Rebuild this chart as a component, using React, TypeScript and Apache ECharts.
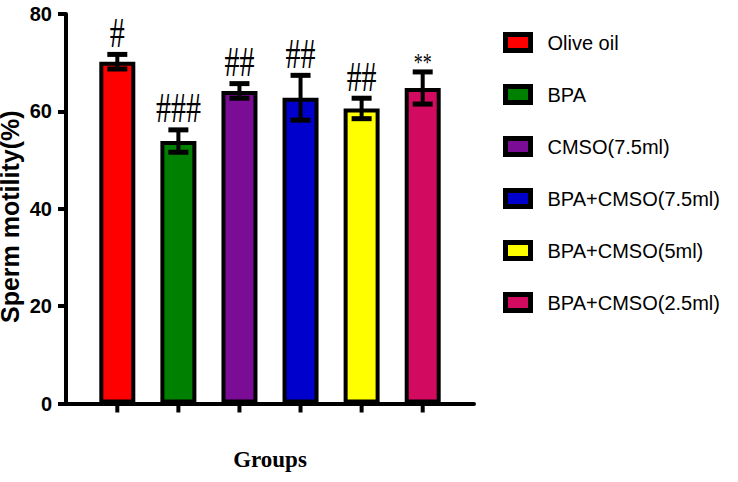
import React, { useEffect, useRef } from "react";
import * as echarts from "echarts";

const categories = ["Olive oil", "BPA", "CMSO(7.5ml)", "BPA+CMSO(7.5ml)", "BPA+CMSO(5ml)", "BPA+CMSO(2.5ml)"];
const means = [70.2, 53.9, 64.2, 62.8, 60.6, 64.8];
const errors = [1.5, 2.3, 1.5, 4.6, 2.1, 3.3];
const marks = ["#", "###", "##", "##", "##", "**"];
const colors = ["#FF0000", "#008000", "#7B0C96", "#0000CC", "#FFFF00", "#D20A60"];
const yTicks = [0, 20, 40, 60, 80];

const SERIF = '"Liberation Serif", "Times New Roman", serif';
const SANS = '"Liberation Sans", Arial, sans-serif';

export default function App() {
  const ref = useRef<HTMLDivElement>(null);
  useEffect(() => {
    if (!ref.current) return;
    const chart = echarts.init(ref.current, null, { renderer: "svg" });
    const barSeries = categories.map((name, i) => ({
      name,
      type: "bar",
      data: [[i, means[i]]],
      barWidth: 36,
      barGap: "-100%",
      itemStyle: { color: colors[i], borderColor: "#000", borderWidth: 4 },
      z: 2,
    }));
    const errData = means.map((m, i) => [i, m + errors[i], m - errors[i], 0]);
    chart.setOption({
      animation: false,
      grid: { left: 66, top: 14, right: 264, bottom: 78.5, outerBoundsMode: "none", containLabel: false },
      legend: {
        orient: "vertical",
        left: 503,
        top: 32,
        padding: 0,
        itemWidth: 25,
        itemHeight: 16,
        itemGap: 31,
        icon: "rect",
        itemStyle: { borderColor: "#000", borderWidth: 5 },
        textStyle: { fontFamily: SANS, fontSize: 20, color: "#000", padding: [0, 0, 0, 12] },
        data: categories,
      },
      xAxis: {
        type: "value",
        min: -0.84,
        max: 5.84,
        axisLine: { show: true, onZero: false, lineStyle: { color: "#000", width: 4 } },
        axisTick: { show: false },
        axisLabel: { show: false },
        splitLine: { show: false },
        name: "Groups",
        nameLocation: "middle",
        nameGap: 44,
        nameMoveOverlap: false,
        nameTextStyle: { fontFamily: SERIF, fontWeight: "bold", fontSize: 23, color: "#000" },
      },
      yAxis: {
        type: "value",
        min: yTicks[0],
        max: yTicks[yTicks.length - 1],
        interval: 20,
        axisLine: { show: true, onZero: false, lineStyle: { color: "#000", width: 4 } },
        axisTick: { show: true, length: 8, lineStyle: { color: "#000", width: 4 } },
        axisLabel: { fontFamily: SANS, fontWeight: "bold", fontSize: 20, color: "#000", margin: 14 },
        splitLine: { show: false },
        name: "Sperm motility(%)",
        nameLocation: "middle",
        nameGap: 44,
        nameMoveOverlap: false,
        nameTextStyle: { fontFamily: SANS, fontWeight: "bold", fontSize: 25, color: "#000", padding: [0, 16, 0, 0] },
      },
      series: [
        ...barSeries,
        {
          type: "custom",
          clip: false,
          z: 5,
          silent: true,
          data: errData,
          encode: { x: 0, y: [1, 2] },
          renderItem: (params: any, api: any) => {
            const i = api.value(0);
            const top = api.coord([i, api.value(1)]);
            const bot = api.coord([i, api.value(2)]);
            const base = api.coord([i, api.value(3)]);
            const x = top[0];
            const isStar = marks[i] === "**";
            return {
              type: "group",
              children: [
                { type: "line", shape: { x1: x, y1: top[1], x2: x, y2: bot[1] }, style: { stroke: "#000", lineWidth: 4 } },
                { type: "line", shape: { x1: x - 10, y1: top[1], x2: x + 10, y2: top[1] }, style: { stroke: "#000", lineWidth: 5 } },
                { type: "line", shape: { x1: x - 10, y1: bot[1], x2: x + 10, y2: bot[1] }, style: { stroke: "#000", lineWidth: 5 } },
                { type: "line", shape: { x1: x, y1: base[1], x2: x, y2: base[1] + 9 }, style: { stroke: "#000", lineWidth: 4 } },
                {
                  type: "text",
                  x: x,
                  y: top[1] + (isStar ? 3 : -1),
                  scaleY: 1.4,
                  style: {
                    text: marks[i],
                    x: 0,
                    y: 0,
                    align: "center",
                    verticalAlign: "bottom",
                    font: isStar ? `18px ${SERIF}` : `30px ${SERIF}`,
                    fill: "#000",
                  },
                },
              ],
            };
          },
        },
      ],
    });
    return () => chart.dispose();
  }, []);
  return <div ref={ref} style={{ width: 738, height: 482, position: "absolute", left: 0, top: 0, background: "#fff" }} />;
}
